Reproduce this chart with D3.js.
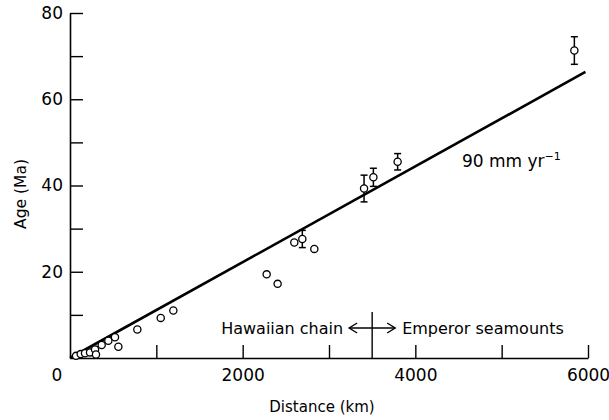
<!DOCTYPE html>
<html>
<head>
<meta charset="utf-8">
<script src="https://cdn.jsdelivr.net/npm/d3@7"></script>
<style>
  html,body{margin:0;padding:0;background:#fff;}
  svg{display:block;font-family:"DejaVu Sans",sans-serif;}
</style>
</head>
<body>
<div id="chart"></div>
<script>
/* Hawaiian–Emperor chain: age vs distance from Kilauea */

/* ---------- DATA ---------- */
const distKm = [70,124,174,232,290,301,367,444,521,560,780,1051,1197,
                2278,2405,2598,2691,2830,3406,3514,3795,5842];
const ageMa  = [0.5,0.9,1.1,1.3,2.0,0.8,3.0,4.0,4.8,2.6,6.6,9.3,11.0,
                19.4,17.2,26.8,27.6,25.3,39.3,41.9,45.5,71.3];
const errMa  = [0,0,0,0,0,0,0,0,0,0,0,0,0,
                0,0,0,2.0,0,3.1,2.1,1.9,3.2];
const RATE = 90;            /* mm/yr  ->  age(Ma) = dist(km)/RATE */
const LINE_END_KM = 5970;
const BOUNDARY_KM = 3500;   /* Hawaiian chain | Emperor seamounts */
const X_TICKS = [1000,2000,3000,4000,5000,6000];
const Y_TICKS = [10,20,30,40,50,60,70,80];

/* ---------- CONFIG ---------- */
const W=609, H=420;
const M={left:70,right:21,top:13,bottom:62};
const TICK=13;

const svg=d3.select("#chart").append("svg").attr("width",W).attr("height",H);

const x=d3.scaleLinear().domain([0,6000]).range([M.left,W-M.right]);
const y=d3.scaleLinear().domain([0,80]).range([H-M.bottom,M.top]);

/* ---------- AXES ---------- */
const gx=svg.append("g").attr("transform",`translate(0,${y(0)})`)
  .call(d3.axisBottom(x).tickValues(X_TICKS).tickSizeInner(-TICK).tickSizeOuter(0)
        .tickPadding(11).tickFormat(d=>d%2000===0?d:""));
const gy=svg.append("g").attr("transform",`translate(${x(0)},0)`)
  .call(d3.axisLeft(y).tickValues(Y_TICKS).tickSizeInner(-TICK).tickSizeOuter(0)
        .tickPadding(7).tickFormat(d=>d%20===0?d:""));
[gx,gy].forEach(g=>{
  g.select(".domain").attr("stroke","#000").attr("stroke-width",1.6);
  g.selectAll(".tick line").attr("stroke","#000").attr("stroke-width",1.4);
  g.selectAll(".tick text").attr("fill","#000").style("font-size","17px")
    .style("font-family","DejaVu Sans");
});
/* shared origin label */
svg.append("text").attr("x",x(0)-13).attr("y",y(0)+11).attr("dy","0.71em")
  .attr("text-anchor","middle").style("font-size","17px").text("0");

/* axis titles */
svg.append("text").attr("x",(x(0)+x(6000))/2-7).attr("y",H-8)
  .attr("text-anchor","middle").style("font-size","15px").text("Distance (km)");
svg.append("text").attr("transform",`translate(26,${194}) rotate(-90)`)
  .attr("text-anchor","middle").style("font-size","15.5px").text("Age (Ma)");

/* ---------- RATE LINE ---------- */
svg.append("line")
  .attr("x1",x(0)).attr("y1",y(0))
  .attr("x2",x(LINE_END_KM)).attr("y2",y(LINE_END_KM/RATE))
  .attr("stroke","#000").attr("stroke-width",2.6);

const lbl=svg.append("text").attr("x",462).attr("y",167).style("font-size","17px");
lbl.append("tspan").text("90 mm yr");
lbl.append("tspan").attr("dy",-7).style("font-size","11px").text("\u22121");

/* ---------- POINTS + ERROR BARS ---------- */
const pts=distKm.map((d,i)=>({d,a:ageMa[i],e:errMa[i]}));
const eb=svg.append("g").attr("stroke","#000").attr("stroke-width",1.5);
pts.filter(p=>p.e>0).forEach(p=>{
  eb.append("line").attr("x1",x(p.d)).attr("x2",x(p.d))
    .attr("y1",y(p.a+p.e)).attr("y2",y(p.a-p.e));
  [p.a+p.e,p.a-p.e].forEach(v=>eb.append("line")
    .attr("x1",x(p.d)-3.5).attr("x2",x(p.d)+3.5).attr("y1",y(v)).attr("y2",y(v)));
});
svg.append("g").selectAll("circle").data(pts).enter().append("circle")
  .attr("cx",p=>x(p.d)).attr("cy",p=>y(p.a)).attr("r",3.6)
  .attr("fill","#fff").attr("stroke","#000").attr("stroke-width",1.3);

/* ---------- CHAIN BOUNDARY ---------- */
const bx=x(BOUNDARY_KM), ay=328;
svg.append("line").attr("x1",bx).attr("x2",bx).attr("y1",312).attr("y2",y(0))
  .attr("stroke","#000").attr("stroke-width",1.4);
svg.append("line").attr("x1",bx-23).attr("x2",bx+23).attr("y1",ay).attr("y2",ay)
  .attr("stroke","#000").attr("stroke-width",1.4);
svg.append("path")
  .attr("d",`M${bx-15},${ay-5}L${bx-23},${ay}L${bx-15},${ay+5}M${bx+15},${ay-5}L${bx+23},${ay}L${bx+15},${ay+5}`)
  .attr("fill","none").attr("stroke","#000").attr("stroke-width",1.4);
svg.append("text").attr("x",bx-29).attr("y",334).attr("text-anchor","end")
  .style("font-size","16px").text("Hawaiian chain");
svg.append("text").attr("x",bx+30).attr("y",334)
  .style("font-size","16px").text("Emperor seamounts");
</script>
</body>
</html>
